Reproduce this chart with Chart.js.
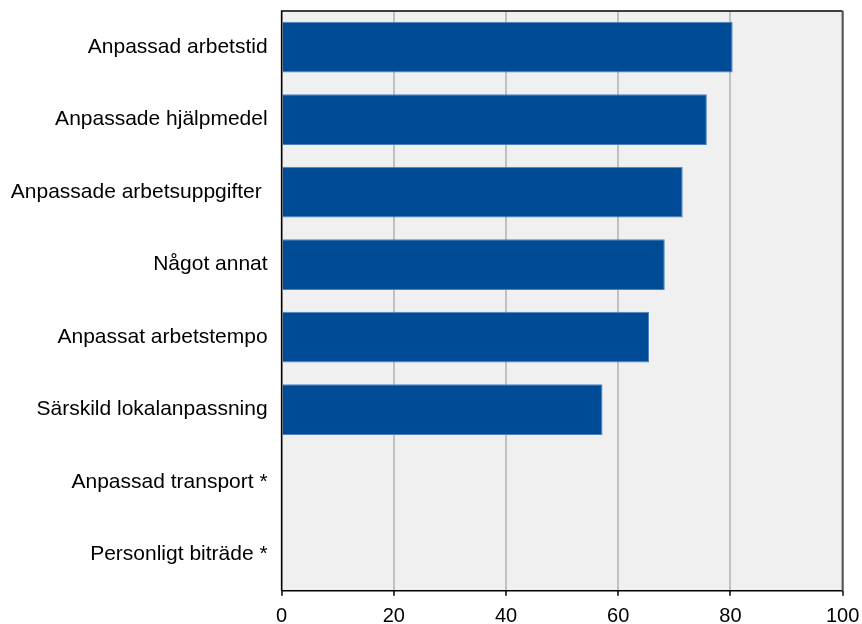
<!DOCTYPE html>
<html>
<head>
<meta charset="utf-8">
<script src="https://cdn.jsdelivr.net/npm/chart.js@4.4.0/dist/chart.umd.min.js"></script>
<style>
  html, body { margin:0; padding:0; background:#fff; }
  #wrap { width:862px; height:624px; }
</style>
</head>
<body>
<div id="wrap"><canvas id="chart"></canvas></div>
<script>
// data
const categories = [
  'Anpassad arbetstid',
  'Anpassade hjälpmedel',
  'Anpassade arbetsuppgifter ',
  'Något annat',
  'Anpassat arbetstempo',
  'Särskild lokalanpassning',
  'Anpassad transport *',
  'Personligt biträde *'
];
const values = [80.4, 75.8, 71.5, 68.3, 65.5, 57.2, null, null];
const xTicks = [0, 20, 40, 60, 80, 100];

// no automatic label padding, layout padding sets the plot box
function noPad(s) {
  s.paddingTop = 0; s.paddingBottom = 0; s.paddingLeft = 0; s.paddingRight = 0;
}

// plot background + frame
const plotFrame = {
  id: 'plotFrame',
  beforeDraw(chart) {
    const { ctx, chartArea: a } = chart;
    ctx.save();
    ctx.fillStyle = '#f0f0f0';
    ctx.fillRect(a.left, a.top, a.right - a.left, a.bottom - a.top);
    ctx.restore();
  },
  afterDatasetsDraw(chart) {
    const { ctx, chartArea: a } = chart;
    ctx.save();
    ctx.lineWidth = 1.5;
    ctx.strokeStyle = '#000';
    ctx.beginPath();
    ctx.moveTo(a.left, a.bottom);
    ctx.lineTo(a.left, a.top);
    ctx.lineTo(a.right, a.top);
    ctx.stroke();
    ctx.strokeStyle = '#555';
    ctx.lineWidth = 2;
    ctx.beginPath();
    ctx.moveTo(a.right, a.top);
    ctx.lineTo(a.right, a.bottom);
    ctx.stroke();
    ctx.strokeStyle = '#000';
    ctx.lineWidth = 1.5;
    ctx.beginPath();
    ctx.moveTo(a.left, a.bottom);
    ctx.lineTo(a.right, a.bottom);
    ctx.stroke();
    ctx.restore();
  }
};

new Chart(document.getElementById('chart'), {
  type: 'bar',
  data: {
    labels: categories,
    datasets: [{
      data: values,
      backgroundColor: '#004b96',
      borderColor: '#4f80bf',
      borderWidth: 1,
      categoryPercentage: 0.7,
      barPercentage: 1.0
    }]
  },
  options: {
    indexAxis: 'y',
    responsive: true,
    maintainAspectRatio: false,
    animation: false,
    layout: { padding: { top: 11, right: 19.4, left: 0, bottom: 0 } },
    plugins: { legend: { display: false }, tooltip: { enabled: false } },
    scales: {
      x: {
        min: 0, max: 100,
        afterBuildTicks: s => { s.ticks = xTicks.map(v => ({ value: v })); },
        afterFit: s => { s.height = 33.3; noPad(s); },
        grid: {
          color: '#c0c0c0',
          lineWidth: 2,
          tickColor: '#000',
          tickLength: 5,
          tickWidth: 1.5
        },
        border: { display: false },
        ticks: { color: '#000', font: { family: 'Liberation Sans, Arial', size: 20 }, padding: 9, maxRotation: 0 }
      },
      y: {
        afterFit: s => { s.width = 281.6; noPad(s); },
        grid: { display: false, drawTicks: false },
        border: { display: false },
        ticks: { color: '#000', font: { family: 'Liberation Sans, Arial', size: 21 }, padding: 14 }
      }
    }
  },
  plugins: [plotFrame]
});
</script>
</body>
</html>
